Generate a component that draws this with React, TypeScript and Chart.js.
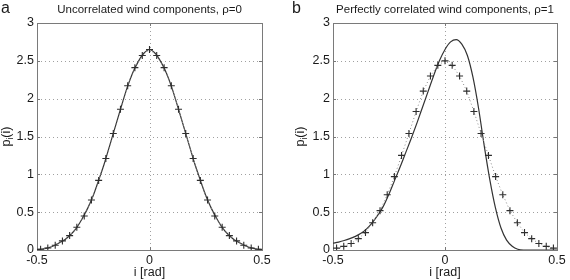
import React, { useEffect, useRef } from "react";
import { Chart, registerables } from "chart.js";

Chart.register(...registerables);

// Bin centres of the simulated inclination histograms [rad]
const binCentres = [
  -0.484, -0.452, -0.419, -0.387, -0.355, -0.323, -0.29, -0.258, -0.226, -0.194, -0.161,
  -0.129, -0.097, -0.065, -0.032, 0, 0.032, 0.065, 0.097, 0.129, 0.161, 0.194, 0.226,
  0.258, 0.29, 0.323, 0.355, 0.387, 0.419, 0.452, 0.484,
];

// Simulated densities (+ markers)
const uncorrelatedSim = [
  0.01, 0.026, 0.062, 0.12, 0.19, 0.3, 0.45, 0.66, 0.92, 1.21, 1.54, 1.86, 2.17, 2.41, 2.57,
  2.65, 2.57, 2.41, 2.17, 1.86, 1.54, 1.21, 0.92, 0.66, 0.45, 0.3, 0.19, 0.12, 0.062, 0.026,
  0.01,
];
const correlatedSim = [
  0.025, 0.048, 0.085, 0.15, 0.23, 0.36, 0.52, 0.73, 0.97, 1.25, 1.54, 1.83, 2.1, 2.3, 2.44,
  2.5, 2.44, 2.3, 2.1, 1.83, 1.54, 1.25, 0.97, 0.73, 0.52, 0.36, 0.23, 0.15, 0.085, 0.048,
  0.025,
];

// Analytical densities (solid curves)
const curveAngles = [
  -0.5, -0.475, -0.45, -0.425, -0.4, -0.375, -0.35, -0.325, -0.3, -0.275, -0.25, -0.225,
  -0.2, -0.175, -0.15, -0.125, -0.1, -0.075, -0.05, -0.025, 0, 0.025, 0.05, 0.075, 0.1,
  0.125, 0.15, 0.175, 0.2, 0.225, 0.25, 0.275, 0.3, 0.325, 0.35, 0.375, 0.4, 0.425, 0.45,
  0.475, 0.5,
];
const uncorrelatedPdf = [
  0.005, 0.013, 0.028, 0.057, 0.095, 0.14, 0.205, 0.29, 0.41, 0.55, 0.72, 0.93, 1.15, 1.4,
  1.65, 1.9, 2.14, 2.34, 2.49, 2.6, 2.65, 2.6, 2.49, 2.34, 2.14, 1.9, 1.65, 1.4, 1.15, 0.93,
  0.72, 0.55, 0.41, 0.29, 0.205, 0.14, 0.095, 0.057, 0.028, 0.013, 0.005,
];
const correlatedPdf = [
  0.09, 0.105, 0.125, 0.15, 0.18, 0.22, 0.28, 0.36, 0.46, 0.58, 0.74, 0.92, 1.1, 1.29, 1.48,
  1.68, 1.89, 2.1, 2.31, 2.5, 2.65, 2.75, 2.78, 2.72, 2.57, 2.28, 1.87, 1.38, 0.93, 0.56,
  0.29, 0.13, 0.05, 0.01, 0, 0, 0, 0, 0, 0, 0,
];

const yTicks = [0, 0.5, 1, 1.5, 2, 2.5, 3];
const xTicks = [-0.5, 0, 0.5];

const FONT = '"Liberation Sans", Arial, Helvetica, sans-serif';

type PanelText = {
  letter: string;
  letterX: number;
  title: string;
  yLabelX: number;
};

const framePlugin = {
  id: "frame",
  beforeDatasetsDraw(chart: any) {
    const { ctx, chartArea: a, scales } = chart;
    const xs = scales.x;
    const ys = scales.y;
    ctx.save();
    ctx.lineWidth = 1;
    // dotted grid
    ctx.strokeStyle = "#a0a0a0";
    ctx.setLineDash([1, 3]);
    for (const v of yTicks) {
      if (v === yTicks[0] || v === yTicks[yTicks.length - 1]) continue;
      const py = Math.round(ys.getPixelForValue(v)) + 0.5;
      ctx.beginPath();
      ctx.moveTo(a.left, py);
      ctx.lineTo(a.right, py);
      ctx.stroke();
    }
    for (const v of xTicks) {
      if (v === xTicks[0] || v === xTicks[xTicks.length - 1]) continue;
      const px = Math.round(xs.getPixelForValue(v)) + 0.5;
      ctx.beginPath();
      ctx.moveTo(px, a.top);
      ctx.lineTo(px, a.bottom);
      ctx.stroke();
    }
    // inward tick marks
    ctx.setLineDash([]);
    ctx.strokeStyle = "#777";
    const tl = 3;
    for (const v of yTicks) {
      const py = Math.round(ys.getPixelForValue(v)) + 0.5;
      ctx.beginPath();
      ctx.moveTo(a.left, py);
      ctx.lineTo(a.left + tl, py);
      ctx.moveTo(a.right, py);
      ctx.lineTo(a.right - tl, py);
      ctx.stroke();
    }
    for (const v of xTicks) {
      const px = Math.round(xs.getPixelForValue(v)) + 0.5;
      ctx.beginPath();
      ctx.moveTo(px, a.bottom);
      ctx.lineTo(px, a.bottom - tl);
      ctx.moveTo(px, a.top);
      ctx.lineTo(px, a.top + tl);
      ctx.stroke();
    }
    // axes box
    ctx.strokeStyle = "#7a7a7a";
    ctx.strokeRect(
      Math.round(a.left) + 0.5,
      Math.round(a.top) + 0.5,
      Math.round(a.right) - Math.round(a.left),
      Math.round(a.bottom) - Math.round(a.top)
    );
    ctx.restore();
  },
  afterDraw(chart: any, _args: any, opts: PanelText) {
    const { ctx, chartArea: a } = chart;
    const cx = (a.left + a.right) / 2;
    const cy = (a.top + a.bottom) / 2;
    ctx.save();
    ctx.fillStyle = "#1a1a1a";
    // panel letter
    ctx.font = `16px ${FONT}`;
    ctx.textAlign = "left";
    ctx.textBaseline = "alphabetic";
    ctx.fillText(opts.letter, opts.letterX, 13);
    // title
    ctx.font = `11.5px ${FONT}`;
    ctx.textAlign = "center";
    ctx.textBaseline = "middle";
    ctx.fillText(opts.title, cx, 10);
    // x-axis label
    ctx.font = `12.5px ${FONT}`;
    ctx.fillText("i [rad]", cx, 273);
    // y-axis label p_i(i)
    ctx.translate(opts.yLabelX, cy);
    ctx.rotate(-Math.PI / 2);
    ctx.textBaseline = "alphabetic";
    ctx.textAlign = "left";
    const mainFont = `12.5px ${FONT}`;
    const subFont = `8.5px ${FONT}`;
    ctx.font = mainFont;
    const wP = ctx.measureText("p").width;
    const wParen = ctx.measureText("(i)").width;
    ctx.font = subFont;
    const wSub = ctx.measureText("i").width;
    const total = wP + wSub + wParen;
    let x0 = -total / 2;
    const base = 3;
    ctx.font = mainFont;
    ctx.fillText("p", x0, base);
    x0 += wP;
    ctx.font = subFont;
    ctx.fillText("i", x0, base + 3);
    x0 += wSub;
    ctx.font = mainFont;
    ctx.fillText("(i)", x0, base);
    ctx.restore();
  },
};

function Panel(props: {
  sim: number[];
  pdf: number[];
  text: PanelText;
  yAxisWidth: number;
  rightPad: number;
}) {
  const ref = useRef<HTMLCanvasElement | null>(null);
  useEffect(() => {
    if (!ref.current) return;
    const chart = new Chart(ref.current, {
      type: "scatter",
      data: {
        datasets: [
          {
            data: binCentres.map((x, i) => ({ x, y: props.sim[i] })),
            showLine: true,
            borderColor: "#8a8a8a",
            borderWidth: 1,
            borderDash: [1, 2.5],
            pointStyle: "cross",
            pointRadius: 3.5,
            pointBorderColor: "#2e2e2e",
            pointBorderWidth: 1.1,
            tension: 0,
          },
          {
            data: curveAngles.map((x, i) => ({ x, y: props.pdf[i] })),
            showLine: true,
            borderColor: "#333",
            borderWidth: 1.2,
            pointRadius: 0,
            cubicInterpolationMode: "monotone",
          },
        ],
      },
      options: {
        animation: false,
        responsive: false,
        maintainAspectRatio: false,
        events: [],
        layout: { padding: { left: 0, top: 23, right: props.rightPad, bottom: 0 } },
        plugins: {
          legend: { display: false },
          tooltip: { enabled: false },
          frame: props.text,
        } as any,
        scales: {
          x: {
            type: "linear",
            min: -0.5,
            max: 0.5,
            grid: { display: false, drawTicks: false },
            border: { display: false },
            afterBuildTicks: (s: any) => {
              s.ticks = xTicks.map((value) => ({ value }));
            },
            afterFit: (s: any) => {
              s.height = 30;
            },
            ticks: {
              padding: 3,
              color: "#1a1a1a",
              font: { family: FONT, size: 12.5 },
              callback: (v: any) => String(v),
            },
          },
          y: {
            type: "linear",
            min: 0,
            max: 3,
            grid: { display: false, drawTicks: false },
            border: { display: false },
            afterBuildTicks: (s: any) => {
              s.ticks = yTicks.map((value) => ({ value }));
            },
            afterFit: (s: any) => {
              s.width = props.yAxisWidth;
            },
            ticks: {
              padding: 3,
              color: "#1a1a1a",
              font: { family: FONT, size: 12.5 },
              callback: (v: any) => String(v),
            },
          },
        },
      },
      plugins: [framePlugin],
    });
    return () => chart.destroy();
  }, []);
  return <canvas ref={ref} width={285} height={280} style={{ display: "block" }} />;
}

export default function App() {
  return (
    <div style={{ position: "absolute", left: 0, top: 0, display: "flex", background: "#fff" }}>
      <Panel
        sim={uncorrelatedSim}
        pdf={uncorrelatedPdf}
        yAxisWidth={37}
        rightPad={23}
        text={{ letter: "a", letterX: 1, title: "Uncorrelated wind components, \u03c1=0", yLabelX: 7 }}
      />
      <Panel
        sim={correlatedSim}
        pdf={correlatedPdf}
        yAxisWidth={48}
        rightPad={13}
        text={{
          letter: "b",
          letterX: 7,
          title: "Perfectly correlated wind components, \u03c1=1",
          yLabelX: 16,
        }}
      />
    </div>
  );
}
